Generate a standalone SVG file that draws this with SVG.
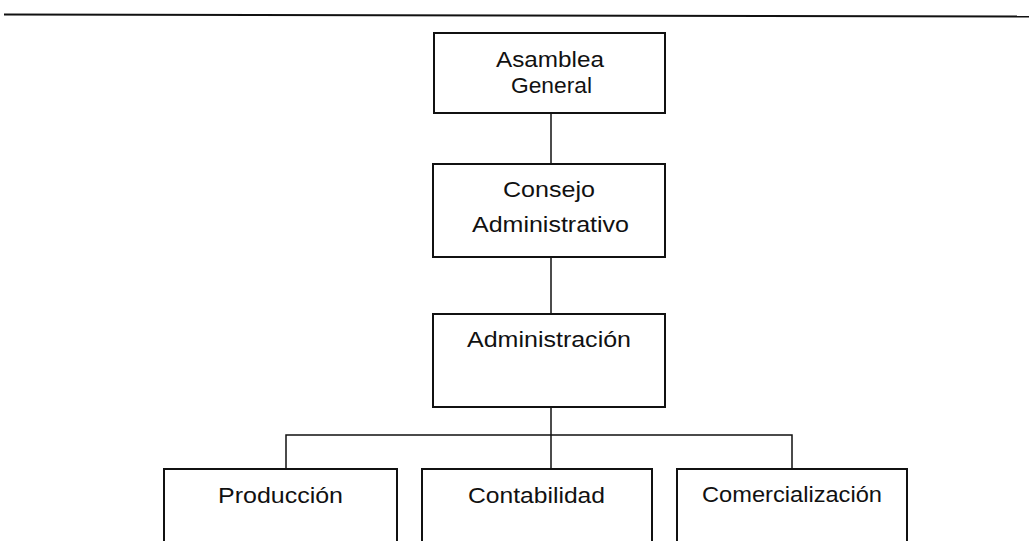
<svg xmlns="http://www.w3.org/2000/svg" width="1029" height="541" viewBox="0 0 1029 541">
<style>
.box{fill:#fff;stroke:#111;stroke-width:2}
.ln{stroke:#111;stroke-width:1.5;fill:none}
text{font-family:"Liberation Sans",Arial,sans-serif;font-size:22px;fill:#111;text-anchor:start}
</style>
<rect width="1029" height="541" fill="#fff"/>
<line x1="4" y1="14.5" x2="1029" y2="16.5" stroke="#111" stroke-width="2"/>
<g id="connectors">
<line class="ln" x1="551" y1="113" x2="551" y2="164"/>
<line class="ln" x1="551" y1="257" x2="551" y2="314"/>
<line class="ln" x1="551" y1="407" x2="551" y2="469"/>
<polyline class="ln" points="286,469 286,435 792,435 792,469"/>
</g>
<g id="asamblea">
<rect class="box" x="434" y="33" width="231" height="80"/>
<text x="496" y="67" textLength="108" lengthAdjust="spacingAndGlyphs">Asamblea</text>
<text x="511" y="93" textLength="81" lengthAdjust="spacingAndGlyphs">General</text>
</g>
<g id="consejo">
<rect class="box" x="433" y="164" width="232" height="93"/>
<text x="503" y="197" textLength="92" lengthAdjust="spacingAndGlyphs">Consejo</text>
<text x="472" y="232" textLength="157" lengthAdjust="spacingAndGlyphs">Administrativo</text>
</g>
<g id="administracion">
<rect class="box" x="433" y="314" width="232" height="93"/>
<text x="467" y="347" textLength="164" lengthAdjust="spacingAndGlyphs">Administración</text>
</g>
<g id="produccion">
<rect class="box" x="164" y="469" width="233" height="80"/>
<text x="218" y="503" textLength="125" lengthAdjust="spacingAndGlyphs">Producción</text>
</g>
<g id="contabilidad">
<rect class="box" x="422" y="469" width="230" height="80"/>
<text x="468" y="503" textLength="137" lengthAdjust="spacingAndGlyphs">Contabilidad</text>
</g>
<g id="comercializacion">
<rect class="box" x="677" y="469" width="230" height="80"/>
<text x="702" y="502" textLength="180" lengthAdjust="spacingAndGlyphs">Comercialización</text>
</g>
</svg>
